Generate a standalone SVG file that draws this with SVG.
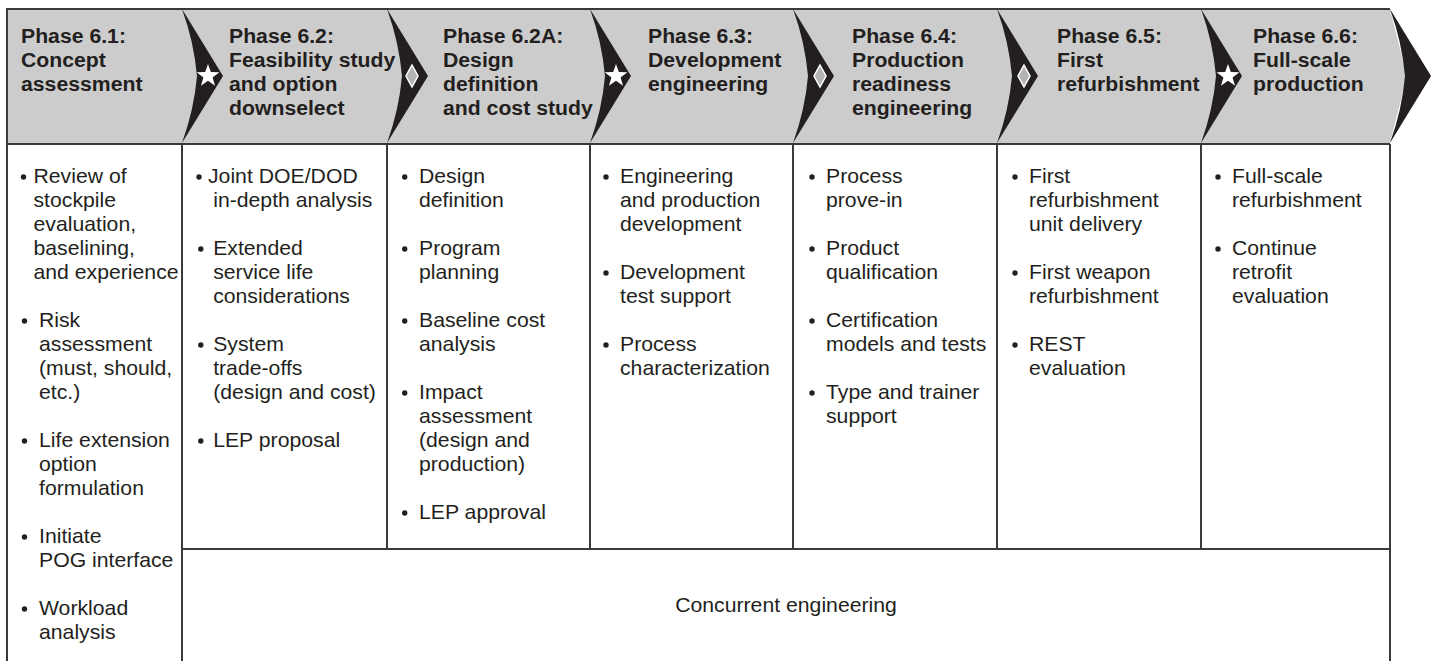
<svg xmlns="http://www.w3.org/2000/svg" width="1439" height="661" viewBox="0 0 1439 661">
<style>
.hd{font-family:"Liberation Sans",Arial,Helvetica,sans-serif;font-weight:bold;font-size:20.5px;fill:#231f20}
.bd{font-family:"Liberation Sans",Arial,Helvetica,sans-serif;font-size:20.5px;fill:#231f20}
.ln{stroke:#3a3a3a;stroke-width:2;fill:none}
.chev{fill:#231f20}
.bul{fill:#231f20}
</style>
<defs>
<path id="chevron" d="M0,9 L41,76 L0,143 Q12,110 15,76 Q12,42 0,9 Z"/>
<path id="star" d="M0,-12 L2.82,-3.88 L11.41,-3.71 L4.56,1.48 L7.05,9.71 L0,4.8 L-7.05,9.71 L-4.56,1.48 L-11.41,-3.71 L-2.82,-3.88 Z" fill="#ffffff"/>
<path id="diamond" d="M0,-11 L6,0 L0,11 L-6,0 Z" fill="#b3b3b3" stroke="#ffffff" stroke-width="1.5"/>
</defs>
<rect width="1439" height="661" fill="#ffffff"/>

<g id="header-bar">
<path d="M7,9 L1390,9 L1407,76 L1390,143 L7,143 Z" fill="#cccccc"/>
<line class="ln" x1="7" y1="9" x2="1390" y2="9"/>
</g>

<g id="frame">
<line class="ln" x1="7" y1="144" x2="1390" y2="144"/>
<line class="ln" x1="7" y1="8" x2="7" y2="661"/>
<line class="ln" x1="182" y1="144" x2="182" y2="661"/>
<line class="ln" x1="387" y1="144" x2="387" y2="549"/>
<line class="ln" x1="590" y1="144" x2="590" y2="549"/>
<line class="ln" x1="793" y1="144" x2="793" y2="549"/>
<line class="ln" x1="997" y1="144" x2="997" y2="549"/>
<line class="ln" x1="1201" y1="144" x2="1201" y2="549"/>
<line class="ln" x1="1390" y1="144" x2="1390" y2="661"/>
<line class="ln" x1="182" y1="549" x2="1390" y2="549"/>
</g>

<g id="connectors">
<use href="#chevron" class="chev" x="182"/>
<use href="#chevron" class="chev" x="387"/>
<use href="#chevron" class="chev" x="590"/>
<use href="#chevron" class="chev" x="793"/>
<use href="#chevron" class="chev" x="997"/>
<use href="#chevron" class="chev" x="1201"/>
<use href="#chevron" class="chev" x="1390"/>
<use href="#star" x="208" y="76"/>
<use href="#diamond" x="412" y="76"/>
<use href="#star" x="616" y="76"/>
<use href="#diamond" x="820" y="76"/>
<use href="#diamond" x="1024" y="76"/>
<use href="#star" x="1228" y="76"/>
</g>

<g id="phase-6-1">
<g transform="translate(21,0) scale(1.035,1)" class="hd">
<text x="0" y="43">Phase 6.1:</text>
<text x="0" y="67">Concept</text>
<text x="0" y="91">assessment</text>
</g>
<g class="bul">
<circle cx="23.5" cy="177" r="2.7"/>
<circle cx="24.5" cy="321" r="2.7"/>
<circle cx="24.5" cy="441" r="2.7"/>
<circle cx="24.5" cy="537" r="2.7"/>
<circle cx="24.5" cy="609" r="2.7"/>
</g>
<g transform="translate(33.5,0) scale(1.035,1)" class="bd">
<text x="0" y="183">Review of</text>
<text x="0" y="207">stockpile</text>
<text x="0" y="231">evaluation,</text>
<text x="0" y="255">baselining,</text>
<text x="0" y="279">and experience</text>
<text x="5.3" y="327">Risk</text>
<text x="5.3" y="351">assessment</text>
<text x="5.3" y="375">(must, should,</text>
<text x="5.3" y="399">etc.)</text>
<text x="5.3" y="447">Life extension</text>
<text x="5.3" y="471">option</text>
<text x="5.3" y="495">formulation</text>
<text x="5.3" y="543">Initiate</text>
<text x="5.3" y="567">POG interface</text>
<text x="5.3" y="615">Workload</text>
<text x="5.3" y="639">analysis</text>
</g>
</g>

<g id="phase-6-2">
<g transform="translate(229,0) scale(1.035,1)" class="hd">
<text x="0" y="43">Phase 6.2:</text>
<text x="0" y="67">Feasibility study</text>
<text x="0" y="91">and option</text>
<text x="0" y="115">downselect</text>
</g>
<g class="bul">
<circle cx="199" cy="177" r="2.7"/>
<circle cx="200.8" cy="249" r="2.7"/>
<circle cx="200.8" cy="345" r="2.7"/>
<circle cx="200.8" cy="441" r="2.7"/>
</g>
<g transform="translate(208,0) scale(1.035,1)" class="bd">
<text x="0" y="183">Joint DOE/DOD</text>
<text x="5" y="207">in-depth analysis</text>
<text x="5" y="255">Extended</text>
<text x="5" y="279">service life</text>
<text x="5" y="303">considerations</text>
<text x="5" y="351">System</text>
<text x="5" y="375">trade-offs</text>
<text x="5" y="399">(design and cost)</text>
<text x="5" y="447">LEP proposal</text>
</g>
</g>

<g id="phase-6-2a">
<g transform="translate(443,0) scale(1.035,1)" class="hd">
<text x="0" y="43">Phase 6.2A:</text>
<text x="0" y="67">Design</text>
<text x="0" y="91">definition</text>
<text x="0" y="115">and cost study</text>
</g>
<g class="bul">
<circle cx="404.7" cy="177" r="2.7"/>
<circle cx="404.7" cy="249" r="2.7"/>
<circle cx="404.7" cy="321" r="2.7"/>
<circle cx="404.7" cy="393" r="2.7"/>
<circle cx="404.7" cy="513" r="2.7"/>
</g>
<g transform="translate(419,0) scale(1.035,1)" class="bd">
<text x="0" y="183">Design</text>
<text x="0" y="207">definition</text>
<text x="0" y="255">Program</text>
<text x="0" y="279">planning</text>
<text x="0" y="327">Baseline cost</text>
<text x="0" y="351">analysis</text>
<text x="0" y="399">Impact</text>
<text x="0" y="423">assessment</text>
<text x="0" y="447">(design and</text>
<text x="0" y="471">production)</text>
<text x="0" y="519">LEP approval</text>
</g>
</g>

<g id="phase-6-3">
<g transform="translate(648,0) scale(1.035,1)" class="hd">
<text x="0" y="43">Phase 6.3:</text>
<text x="0" y="67">Development</text>
<text x="0" y="91">engineering</text>
</g>
<g class="bul">
<circle cx="606" cy="177" r="2.7"/>
<circle cx="606" cy="273" r="2.7"/>
<circle cx="606" cy="345" r="2.7"/>
</g>
<g transform="translate(620,0) scale(1.035,1)" class="bd">
<text x="0" y="183">Engineering</text>
<text x="0" y="207">and production</text>
<text x="0" y="231">development</text>
<text x="0" y="279">Development</text>
<text x="0" y="303">test support</text>
<text x="0" y="351">Process</text>
<text x="0" y="375">characterization</text>
</g>
</g>

<g id="phase-6-4">
<g transform="translate(852,0) scale(1.035,1)" class="hd">
<text x="0" y="43">Phase 6.4:</text>
<text x="0" y="67">Production</text>
<text x="0" y="91">readiness</text>
<text x="0" y="115">engineering</text>
</g>
<g class="bul">
<circle cx="812" cy="177" r="2.7"/>
<circle cx="812" cy="249" r="2.7"/>
<circle cx="812" cy="321" r="2.7"/>
<circle cx="812" cy="393" r="2.7"/>
</g>
<g transform="translate(826,0) scale(1.035,1)" class="bd">
<text x="0" y="183">Process</text>
<text x="0" y="207">prove-in</text>
<text x="0" y="255">Product</text>
<text x="0" y="279">qualification</text>
<text x="0" y="327">Certification</text>
<text x="0" y="351">models and tests</text>
<text x="0" y="399">Type and trainer</text>
<text x="0" y="423">support</text>
</g>
</g>

<g id="phase-6-5">
<g transform="translate(1057,0) scale(1.035,1)" class="hd">
<text x="0" y="43">Phase 6.5:</text>
<text x="0" y="67">First</text>
<text x="0" y="91">refurbishment</text>
</g>
<g class="bul">
<circle cx="1015" cy="177" r="2.7"/>
<circle cx="1015" cy="273" r="2.7"/>
<circle cx="1015" cy="345" r="2.7"/>
</g>
<g transform="translate(1029,0) scale(1.035,1)" class="bd">
<text x="0" y="183">First</text>
<text x="0" y="207">refurbishment</text>
<text x="0" y="231">unit delivery</text>
<text x="0" y="279">First weapon</text>
<text x="0" y="303">refurbishment</text>
<text x="0" y="351">REST</text>
<text x="0" y="375">evaluation</text>
</g>
</g>

<g id="phase-6-6">
<g transform="translate(1253,0) scale(1.035,1)" class="hd">
<text x="0" y="43">Phase 6.6:</text>
<text x="0" y="67">Full-scale</text>
<text x="0" y="91">production</text>
</g>
<g class="bul">
<circle cx="1218" cy="177" r="2.7"/>
<circle cx="1218" cy="249" r="2.7"/>
</g>
<g transform="translate(1232,0) scale(1.035,1)" class="bd">
<text x="0" y="183">Full-scale</text>
<text x="0" y="207">refurbishment</text>
<text x="0" y="255">Continue</text>
<text x="0" y="279">retrofit</text>
<text x="0" y="303">evaluation</text>
</g>
</g>

<g id="concurrent-engineering">
<g transform="translate(786,0) scale(1.035,1)" class="bd">
<text x="0" y="612" text-anchor="middle">Concurrent engineering</text>
</g>
</g>
</svg>
